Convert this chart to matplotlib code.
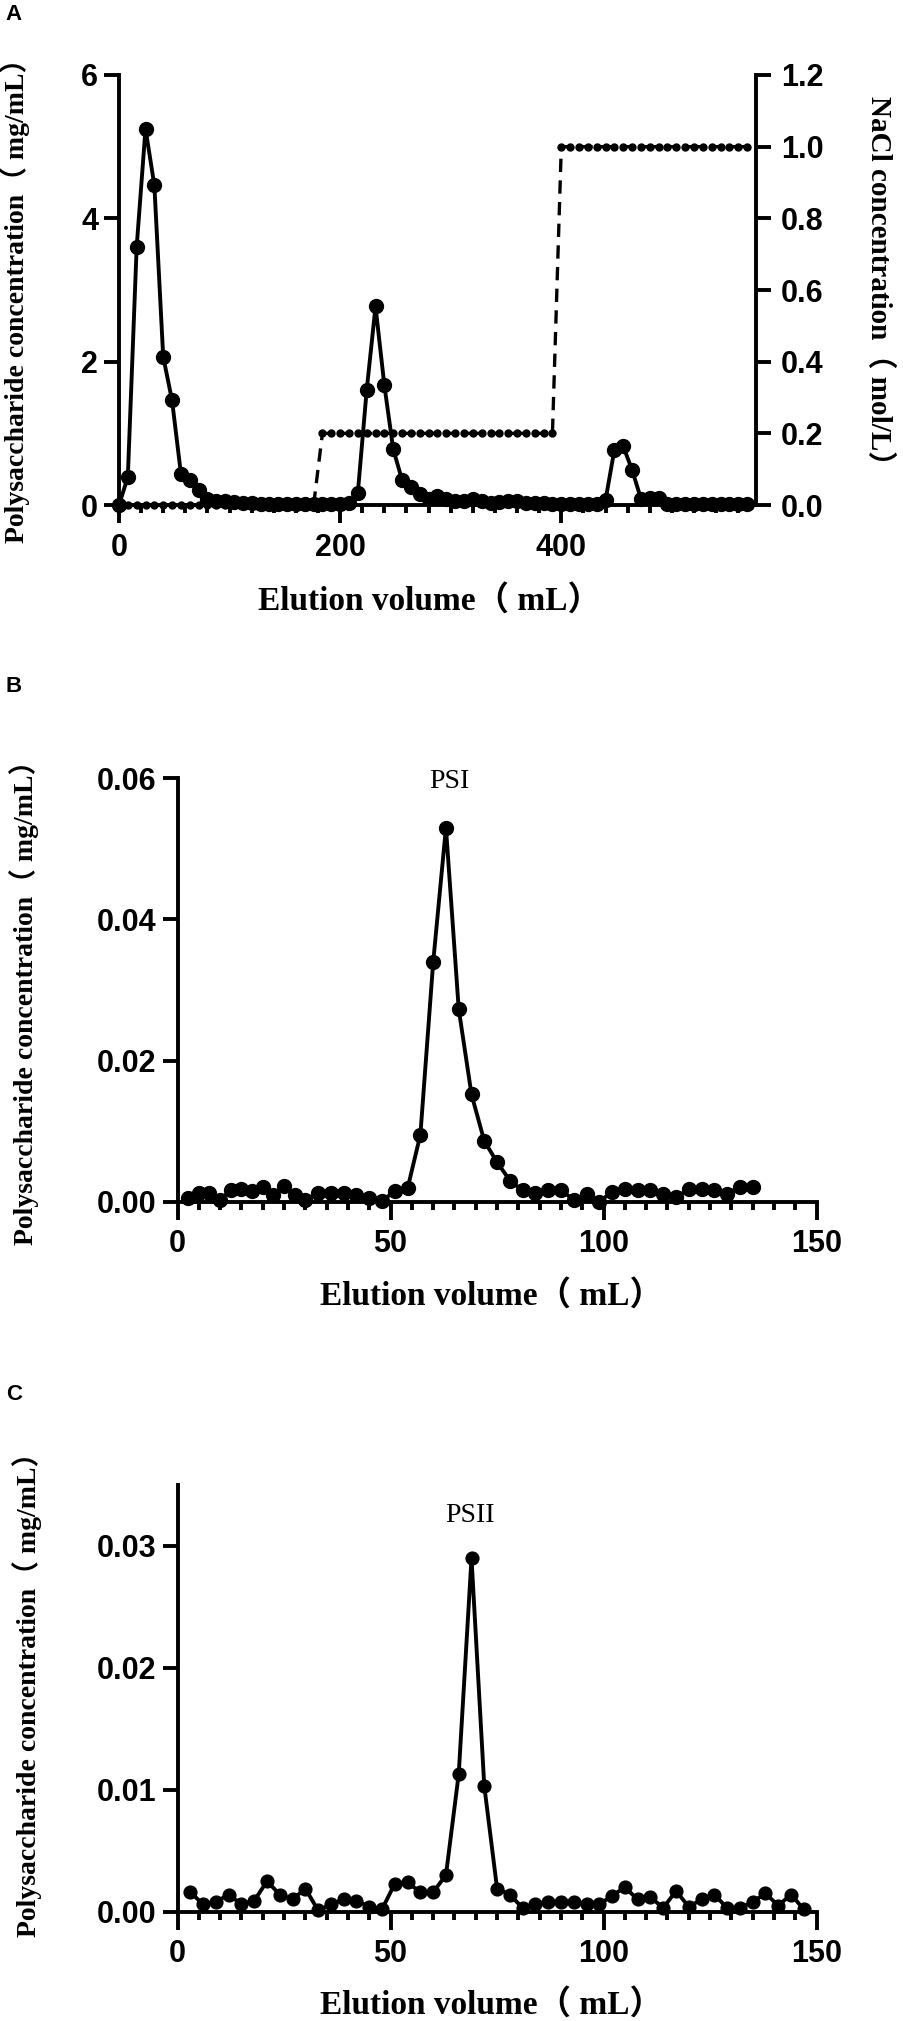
import matplotlib
matplotlib.use("Agg")
import matplotlib.pyplot as plt
from matplotlib.ticker import MultipleLocator

# ---- panel A: DEAE column, 8 mL fractions ----
a_volume = [0, 8, 16, 24, 32, 40, 48, 56, 64, 72, 80, 88, 96, 104, 112, 120,
            128, 136, 144, 152, 160, 168, 176, 184, 192, 200, 208, 216, 224,
            232, 240, 248, 256, 264, 272, 280, 288, 296, 304, 312, 320, 328,
            336, 344, 352, 360, 368, 376, 384, 392, 400, 408, 416, 424, 432,
            440, 448, 456, 464, 472, 480, 488, 496, 504, 512, 520, 528, 536,
            544, 552, 560, 568]
a_sugar = [0.0, 0.39, 3.60, 5.25, 4.46, 2.07, 1.46, 0.44, 0.35, 0.21, 0.09,
           0.06, 0.05, 0.04, 0.03, 0.03, 0.02, 0.02, 0.02, 0.02, 0.02, 0.02,
           0.02, 0.02, 0.02, 0.02, 0.03, 0.17, 1.60, 2.77, 1.67, 0.78, 0.35,
           0.25, 0.16, 0.09, 0.13, 0.09, 0.06, 0.05, 0.08, 0.06, 0.03, 0.04,
           0.06, 0.05, 0.03, 0.03, 0.03, 0.02, 0.02, 0.02, 0.02, 0.02, 0.02,
           0.07, 0.77, 0.82, 0.49, 0.09, 0.10, 0.10, 0.02, 0.02, 0.01, 0.01,
           0.02, 0.01, 0.01, 0.01, 0.01, 0.01]
a_nacl = [0.0, 0.0, 0.0, 0.0, 0.0, 0.0, 0.0, 0.0, 0.0, 0.0, 0.0, 0.0, 0.0,
          0.0, 0.0, 0.0, 0.0, 0.0, 0.0, 0.0, 0.0, 0.0, 0.0,
          0.2, 0.2, 0.2, 0.2, 0.2, 0.2, 0.2, 0.2, 0.2, 0.2, 0.2, 0.2, 0.2,
          0.2, 0.2, 0.2, 0.2, 0.2, 0.2, 0.2, 0.2, 0.2, 0.2, 0.2, 0.2, 0.2, 0.2,
          1.0, 1.0, 1.0, 1.0, 1.0, 1.0, 1.0, 1.0, 1.0, 1.0, 1.0, 1.0, 1.0,
          1.0, 1.0, 1.0, 1.0, 1.0, 1.0, 1.0, 1.0, 1.0]

# ---- panel B: PSI on gel column ----
b_volume = [2.5, 5, 7.5, 10, 12.5, 15, 17.5, 20, 22.5, 25, 27.5, 30, 33, 36,
            39, 42, 45, 48, 51, 54, 57, 60, 63, 66, 69, 72, 75, 78, 81, 84, 87,
            90, 93, 96, 99, 102, 105, 108, 111, 114, 117, 120, 123, 126, 129,
            132, 135]
b_sugar = [0.0005, 0.0012, 0.0013, 0.0002, 0.0017, 0.0018, 0.0015, 0.0021,
           0.0009, 0.0022, 0.0009, 0.0003, 0.0012, 0.0012, 0.0012, 0.0009,
           0.0005, 0.0001, 0.0015, 0.0019, 0.0095, 0.0339, 0.0530, 0.0273,
           0.0152, 0.0086, 0.0056, 0.0030, 0.0016, 0.0013, 0.0017, 0.0016,
           0.0003, 0.0011, 0.0000, 0.0014, 0.0018, 0.0016, 0.0016, 0.0011,
           0.0006, 0.0018, 0.0018, 0.0016, 0.0011, 0.0021, 0.0021]

# ---- panel C: PSII on gel column ----
c_volume = [3, 6, 9, 12, 15, 18, 21, 24, 27, 30, 33, 36, 39, 42, 45, 48, 51,
            54, 57, 60, 63, 66, 69, 72, 75, 78, 81, 84, 87, 90, 93, 96, 99,
            102, 105, 108, 111, 114, 117, 120, 123, 126, 129, 132, 135, 138,
            141, 144, 147]
c_sugar = [0.0016, 0.0006, 0.0008, 0.0014, 0.0006, 0.0009, 0.0025, 0.0014,
           0.0010, 0.0019, 0.0001, 0.0006, 0.0010, 0.0009, 0.0004, 0.0002,
           0.0023, 0.0024, 0.0016, 0.0016, 0.0030, 0.0113, 0.0290, 0.0103,
           0.0019, 0.0014, 0.0003, 0.0006, 0.0008, 0.0008, 0.0008, 0.0006,
           0.0006, 0.0013, 0.0020, 0.0010, 0.0012, 0.0003, 0.0017, 0.0004,
           0.0010, 0.0014, 0.0003, 0.0003, 0.0008, 0.0015, 0.0005, 0.0014,
           0.0002]

xlabel_text = "Elution volume（ mL）"
ylabel_text = "Polysaccharide concentration（ mg/mL）"
nacl_label = "NaCl concentration（ mol/L）"

SERIF = ["Liberation Serif", "Noto Sans CJK SC"]
LW = 2.8
YLAB_SIZE = 20


def bold_ticklabels(labels):
    for lab in labels:
        lab.set_fontfamily("Liberation Sans")
        lab.set_fontweight("bold")
        lab.set_fontsize(22)


def style_axis(ax, xmajor, xminor):
    for side in ["top", "right"]:
        ax.spines[side].set_visible(False)
    for side in ["left", "bottom"]:
        ax.spines[side].set_linewidth(LW)
    ax.xaxis.set_major_locator(MultipleLocator(xmajor))
    ax.xaxis.set_minor_locator(MultipleLocator(xminor))
    ax.tick_params(axis="x", which="major", length=13, width=LW, pad=7)
    ax.tick_params(axis="x", which="minor", length=6, width=LW)
    ax.tick_params(axis="y", which="major", length=11, width=LW, pad=4)
    bold_ticklabels(ax.get_xticklabels() + ax.get_yticklabels())


def centre_label(axis, pos):
    # place an axis label by its centre, in axes fractions
    axis.set_label_coords(*pos)
    axis.label.set_va("center")
    axis.label.set_ha("center")


fig = plt.figure(figsize=(9.04, 20.21), dpi=100)

# ---------------- A ----------------
axA = fig.add_axes([0.1316, 0.7501, 0.7046, 0.2128])
axA.plot(a_volume, a_sugar, color="black", lw=LW, marker="o", ms=10,
         clip_on=False, zorder=3)
axA.set_xlim(0, 576)
axA.set_ylim(0, 6)
axA.set_yticks([0, 2, 4, 6])
style_axis(axA, 200, 20)
axA.set_xlabel(xlabel_text, family=SERIF, fontweight="bold", fontsize=24)
axA.set_ylabel(ylabel_text, family=SERIF, fontweight="bold",
               fontsize=YLAB_SIZE)
centre_label(axA.xaxis, (0.488, -0.223))
centre_label(axA.yaxis, (-0.163, 0.49))

axR = axA.twinx()
axR.plot(a_volume, a_nacl, color="black", lw=2.4, ls=(0, (4, 2.5)),
         marker="o", ms=5, clip_on=False, zorder=2)
axR.set_ylim(0, 1.2)
axR.set_yticks([0, 0.2, 0.4, 0.6, 0.8, 1.0, 1.2])
axR.set_yticklabels(["0.0", "0.2", "0.4", "0.6", "0.8", "1.0", "1.2"])
for side in ["top", "left", "bottom"]:
    axR.spines[side].set_visible(False)
axR.spines["right"].set_linewidth(LW)
axR.tick_params(axis="y", length=11, width=LW, pad=7)
bold_ticklabels(axR.get_yticklabels())
axR.set_ylabel(nacl_label, family=SERIF, fontweight="bold",
               fontsize=YLAB_SIZE + 1, rotation=270)
centre_label(axR.yaxis, (1.193, 0.505))

# ---------------- B ----------------
axB = fig.add_axes([0.1964, 0.4054, 0.7069, 0.2095])
axB.plot(b_volume, b_sugar, color="black", lw=LW, marker="o", ms=10,
         clip_on=False, zorder=3)
axB.set_xlim(0, 150)
axB.set_ylim(0, 0.06)
axB.set_yticks([0, 0.02, 0.04, 0.06])
axB.set_yticklabels(["0.00", "0.02", "0.04", "0.06"])
style_axis(axB, 50, 5)
axB.set_xlabel(xlabel_text, family=SERIF, fontweight="bold", fontsize=24)
axB.set_ylabel(ylabel_text, family=SERIF, fontweight="bold",
               fontsize=YLAB_SIZE)
centre_label(axB.xaxis, (0.4906, -0.223))
centre_label(axB.yaxis, (-0.24, 0.486))
axB.text(63.7, 0.0596, "PSI", family=SERIF, fontsize=20, ha="center",
         va="center")

# ---------------- C ----------------
axC = fig.add_axes([0.1964, 0.0541, 0.7069, 0.2111])
axC.plot(c_volume, c_sugar, color="black", lw=LW, marker="o", ms=9.2,
         clip_on=False, zorder=3)
axC.set_xlim(0, 150)
axC.set_ylim(0, 0.035)
axC.set_yticks([0, 0.01, 0.02, 0.03])
axC.set_yticklabels(["0.00", "0.01", "0.02", "0.03"])
style_axis(axC, 50, 5)
axC.set_xlabel(xlabel_text, family=SERIF, fontweight="bold", fontsize=24)
axC.set_ylabel(ylabel_text, family=SERIF, fontweight="bold",
               fontsize=YLAB_SIZE)
centre_label(axC.xaxis, (0.4906, -0.219))
centre_label(axC.yaxis, (-0.235, 0.524))
axC.text(68.7, 0.0325, "PSII", family=SERIF, fontsize=20, ha="center",
         va="center")

# panel letters
for letter, ypix in [("A", 15), ("B", 687), ("C", 1395)]:
    fig.text(14 / 904, 1 - ypix / 2021, letter, family="Liberation Sans",
             fontweight="bold", fontsize=16, ha="center", va="center")

fig.savefig("out.png", dpi=100)
